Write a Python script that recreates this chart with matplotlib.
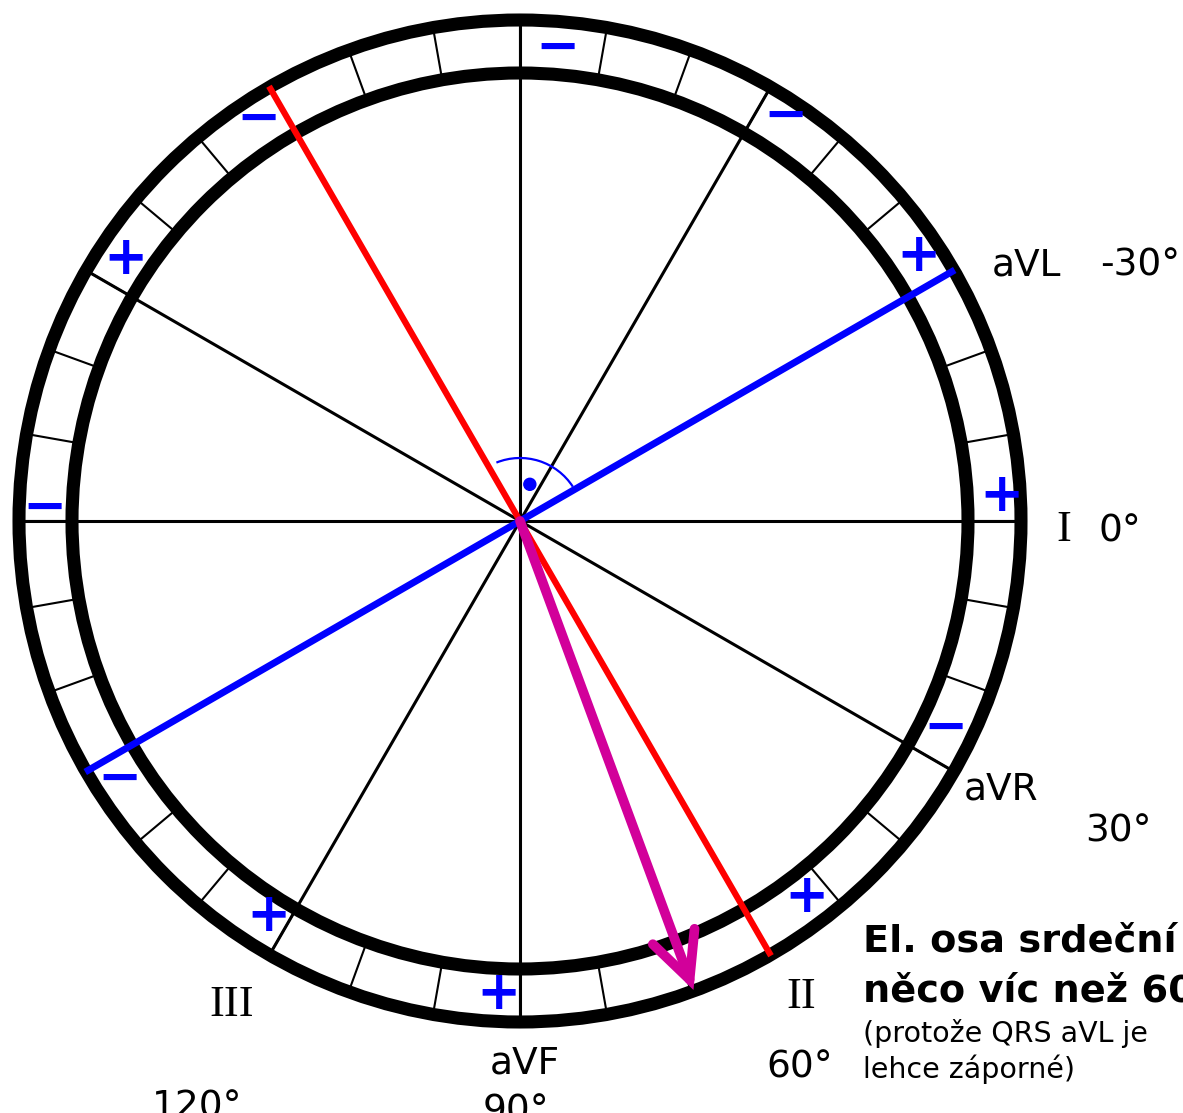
import numpy as np
import matplotlib
matplotlib.use("Agg")
import matplotlib.pyplot as plt
from matplotlib.patches import Circle, Arc, FancyArrowPatch

# hexaxial reference system (angles in degrees, clockwise from lead I)
lead_angles = [-90, -60, -30, 0, 30, 60]          # full black axes (both directions)
tick_angles = list(range(0, 360, 10))             # small ticks in the ring
red_lead = 60          # lead II
blue_lead = -30        # aVL
axis_angle = 69.7      # electrical axis (arrow)

# +/- signs around the ring
sign_text = ["−", "−", "+", "+", "−", "+", "+", "+", "−", "−", "+", "−"]
sign_angle = [-85.5, -57, -34, -3.5, 25.5, 52.4, 92.6, 122.8, 147.6, 182, -146, -122.8]
sign_radius = [479, 488, 481, 482, 471, 469, 469, 465, 474, 476, 476, 483]

W, H = 1183, 1113
cx, cy = 520, 521
R_out, R_in = 501, 448

fig = plt.figure(figsize=(W / 100, H / 100), dpi=100)
ax = fig.add_axes([0, 0, 1, 1])
ax.set_xlim(0, W)
ax.set_ylim(H, 0)
ax.axis("off")

def pol(a, r):
    t = np.deg2rad(a)
    return cx + r * np.cos(t), cy + r * np.sin(t)

# black axes through the centre
for a in lead_angles:
    x0, y0 = pol(a, R_out)
    x1, y1 = pol(a + 180, R_out)
    ax.plot([x0, x1], [y0, y1], color="black", lw=2.2, zorder=1)

# ticks between the two rings
for a in tick_angles:
    x0, y0 = pol(a, R_in)
    x1, y1 = pol(a, R_out)
    ax.plot([x0, x1], [y0, y1], color="black", lw=1.5, zorder=1)

ax.add_patch(Circle((cx, cy), R_out, fill=False, ec="black", lw=9.4, zorder=2))
ax.add_patch(Circle((cx, cy), R_in, fill=False, ec="black", lw=9.4, zorder=2))

# lead II in red, aVL in blue
x0, y0 = pol(red_lead, 502)
x1, y1 = pol(red_lead + 180, 502)
ax.plot([x0, x1], [y0, y1], color="#ff0000", lw=4.5, zorder=3, solid_capstyle="butt")
x0, y0 = pol(blue_lead, 502)
x1, y1 = pol(blue_lead + 180, 502)
ax.plot([x0, x1], [y0, y1], color="#0000ff", lw=5, zorder=3, solid_capstyle="butt")

# right-angle mark
ax.add_patch(Arc((cx, cy), 126, 126, theta1=-112, theta2=-33, color="#0000ff", lw=1.6, zorder=3))
dx, dy = pol(-75, 38)
ax.add_patch(Circle((dx, dy), 6, color="#0000ff", zorder=3))

# electrical axis arrow
tip = pol(axis_angle, 500)
arr = FancyArrowPatch((cx, cy), tip, arrowstyle="->,head_length=3.3,head_width=1.6",
                      mutation_scale=10, color="#d2009a", lw=7, zorder=4,
                      shrinkA=0, shrinkB=0, capstyle="round", joinstyle="miter")
ax.add_patch(arr)

# signs
for s, a, r in zip(sign_text, sign_angle, sign_radius):
    x, y = pol(a, r)
    ax.text(x, y + 4, s, color="#0000ff", fontsize=38, fontweight="bold",
            ha="center", va="center", zorder=5)

# labels
sans = dict(fontsize=27, color="black", family="DejaVu Sans")
serif = dict(fontsize=32, color="black", family="Liberation Serif")
ax.text(1027, 276, "aVL", ha="center", va="baseline", **sans)
ax.text(1100, 276, "-30°", ha="left", va="baseline", **sans)
ax.text(1064, 541, "I", ha="center", va="baseline", **serif)
ax.text(1099, 541, "0°", ha="left", va="baseline", **sans)
ax.text(1001, 800, "aVR", ha="center", va="baseline", **sans)
ax.text(1118, 842, "30°", ha="center", va="baseline", **sans)
ax.text(801, 1008, "II", ha="center", va="baseline", **serif)
ax.text(800, 1077, "60°", ha="center", va="baseline", **sans)
ax.text(525, 1073, "aVF", ha="center", va="baseline", **sans)
ax.text(516, 1122, "90°", ha="center", va="baseline", **sans)
ax.text(232, 1016, "III", ha="center", va="baseline", **serif)
ax.text(197, 1117, "120°", ha="center", va="baseline", **sans)

ax.text(863, 952, "El. osa srdeční", ha="left", va="baseline", fontsize=27.5,
        fontweight="bold", family="DejaVu Sans")
ax.text(863, 1002, "něco víc než 60°", ha="left", va="baseline", fontsize=27.5,
        fontweight="bold", family="DejaVu Sans")
ax.text(863, 1042, "(protože QRS aVL je", ha="left", va="baseline", fontsize=20.5,
        family="DejaVu Sans")
ax.text(863, 1078, "lehce záporné)", ha="left", va="baseline", fontsize=20.5,
        family="DejaVu Sans")

fig.savefig("out.png", dpi=100)
